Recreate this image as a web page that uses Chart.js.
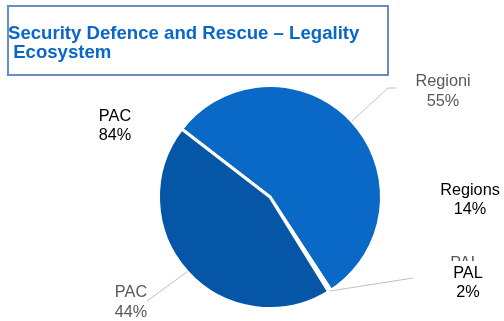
<!DOCTYPE html>
<html>
<head>
<meta charset="utf-8">
<script src="https://cdn.jsdelivr.net/npm/chart.js@4.4.1/dist/chart.umd.min.js"></script>
<style>
  html, body { margin: 0; padding: 0; background: #ffffff; }
  #wrap { position: relative; width: 504px; height: 321px; overflow: hidden; }
  #c { position: absolute; left: 0; top: 0; }
  #box { position: absolute; left: 7px; top: 5px; width: 382px; height: 71px; box-sizing: border-box;
         border: 2px solid #6a8cc6; }
  #title { position: absolute; left: 8px; top: 23px; white-space: pre; color: #0a66c8;
           font: bold 18.6px "Liberation Sans", Arial, sans-serif; line-height: 19px; }
</style>
</head>
<body>
<div id="wrap">
  <canvas id="c" width="504" height="321"></canvas>
  <div id="box"></div>
  <div id="title"></div>
</div>
<script>
// ---- data ----
const titleLines = ['Security Defence and Rescue \u2013 Legality', ' Ecosystem'];
const categories = ['Regioni', 'PAL', 'PAC'];
const values = [55, 0.4, 44];
const colors = ['#0a68c6', '#ffffff', '#0556a7'];
// overlaid (black) text boxes in the picture
const overlayNames = ['PAC', 'Regions', 'PAL'];
const overlayValues = ['84%', '14%', '2%'];

// ---- layout (positions only) ----
const labelPos = [ {x: 443, y: 86, dy: 20, show: true},   // Regioni
                   {x: 465, y: 268, dy: 20, show: false}, // PAL (hidden under overlay)
                   {x: 131, y: 297, dy: 20, show: true} ];// PAC
const leaderPts = [ [[388, 88], [396, 88]],
                    [[413, 278]],
                    [[147, 301]] ];
const overlayPos = [ {x: 115, y: 121}, {x: 470, y: 195}, {x: 468, y: 278} ];

document.getElementById('title').textContent = titleLines.join('\n');

const total = values.reduce((a, b) => a + b, 0);
const FONT = '16.3px "Liberation Sans", Arial, sans-serif';

const labelPlugin = {
  id: 'pieLabels',
  afterDraw(chart) {
    const ctx = chart.ctx;
    const meta = chart.getDatasetMeta(0);
    ctx.save();
    // leader lines
    ctx.strokeStyle = '#bfbfbf';
    ctx.lineWidth = 1;
    meta.data.forEach((arc, i) => {
      const p = arc.getProps(['x', 'y', 'startAngle', 'endAngle', 'outerRadius'], true);
      const mid = (p.startAngle + p.endAngle) / 2;
      const sx = p.x + Math.cos(mid) * p.outerRadius;
      const sy = p.y + Math.sin(mid) * p.outerRadius;
      ctx.beginPath();
      ctx.moveTo(sx, sy);
      leaderPts[i].forEach(pt => ctx.lineTo(pt[0], pt[1]));
      ctx.stroke();
    });
    // gray category labels
    ctx.font = FONT;
    ctx.textAlign = 'center';
    ctx.textBaseline = 'alphabetic';
    ctx.fillStyle = '#595959';
    categories.forEach((name, i) => {
      const lp = labelPos[i];
      const pct = Math.round(values[i] / total * 100) + '%';
      ctx.fillText(name, lp.x, lp.y);
      if (lp.show) ctx.fillText(pct, lp.x, lp.y + lp.dy);
    });
    // white patch hiding the PAL label under the overlay
    ctx.fillStyle = '#ffffff';
    ctx.fillRect(440, 261, 60, 40);
    // black overlay texts
    ctx.fillStyle = '#000000';
    overlayNames.forEach((name, i) => {
      const op = overlayPos[i];
      ctx.fillText(name, op.x, op.y);
      ctx.fillText(overlayValues[i], op.x, op.y + 19);
    });
    ctx.restore();
  }
};

new Chart(document.getElementById('c'), {
  type: 'pie',
  data: {
    labels: categories,
    datasets: [{
      data: values,
      backgroundColor: colors,
      borderColor: '#ffffff',
      borderWidth: 3
    }]
  },
  options: {
    responsive: false,
    animation: false,
    rotation: -52.4,
    radius: 111.5,
    layout: { padding: { left: 157, right: 121, top: 84, bottom: 11 } },
    plugins: { legend: { display: false }, tooltip: { enabled: false }, title: { display: false } }
  },
  plugins: [labelPlugin]
});
</script>
</body>
</html>
